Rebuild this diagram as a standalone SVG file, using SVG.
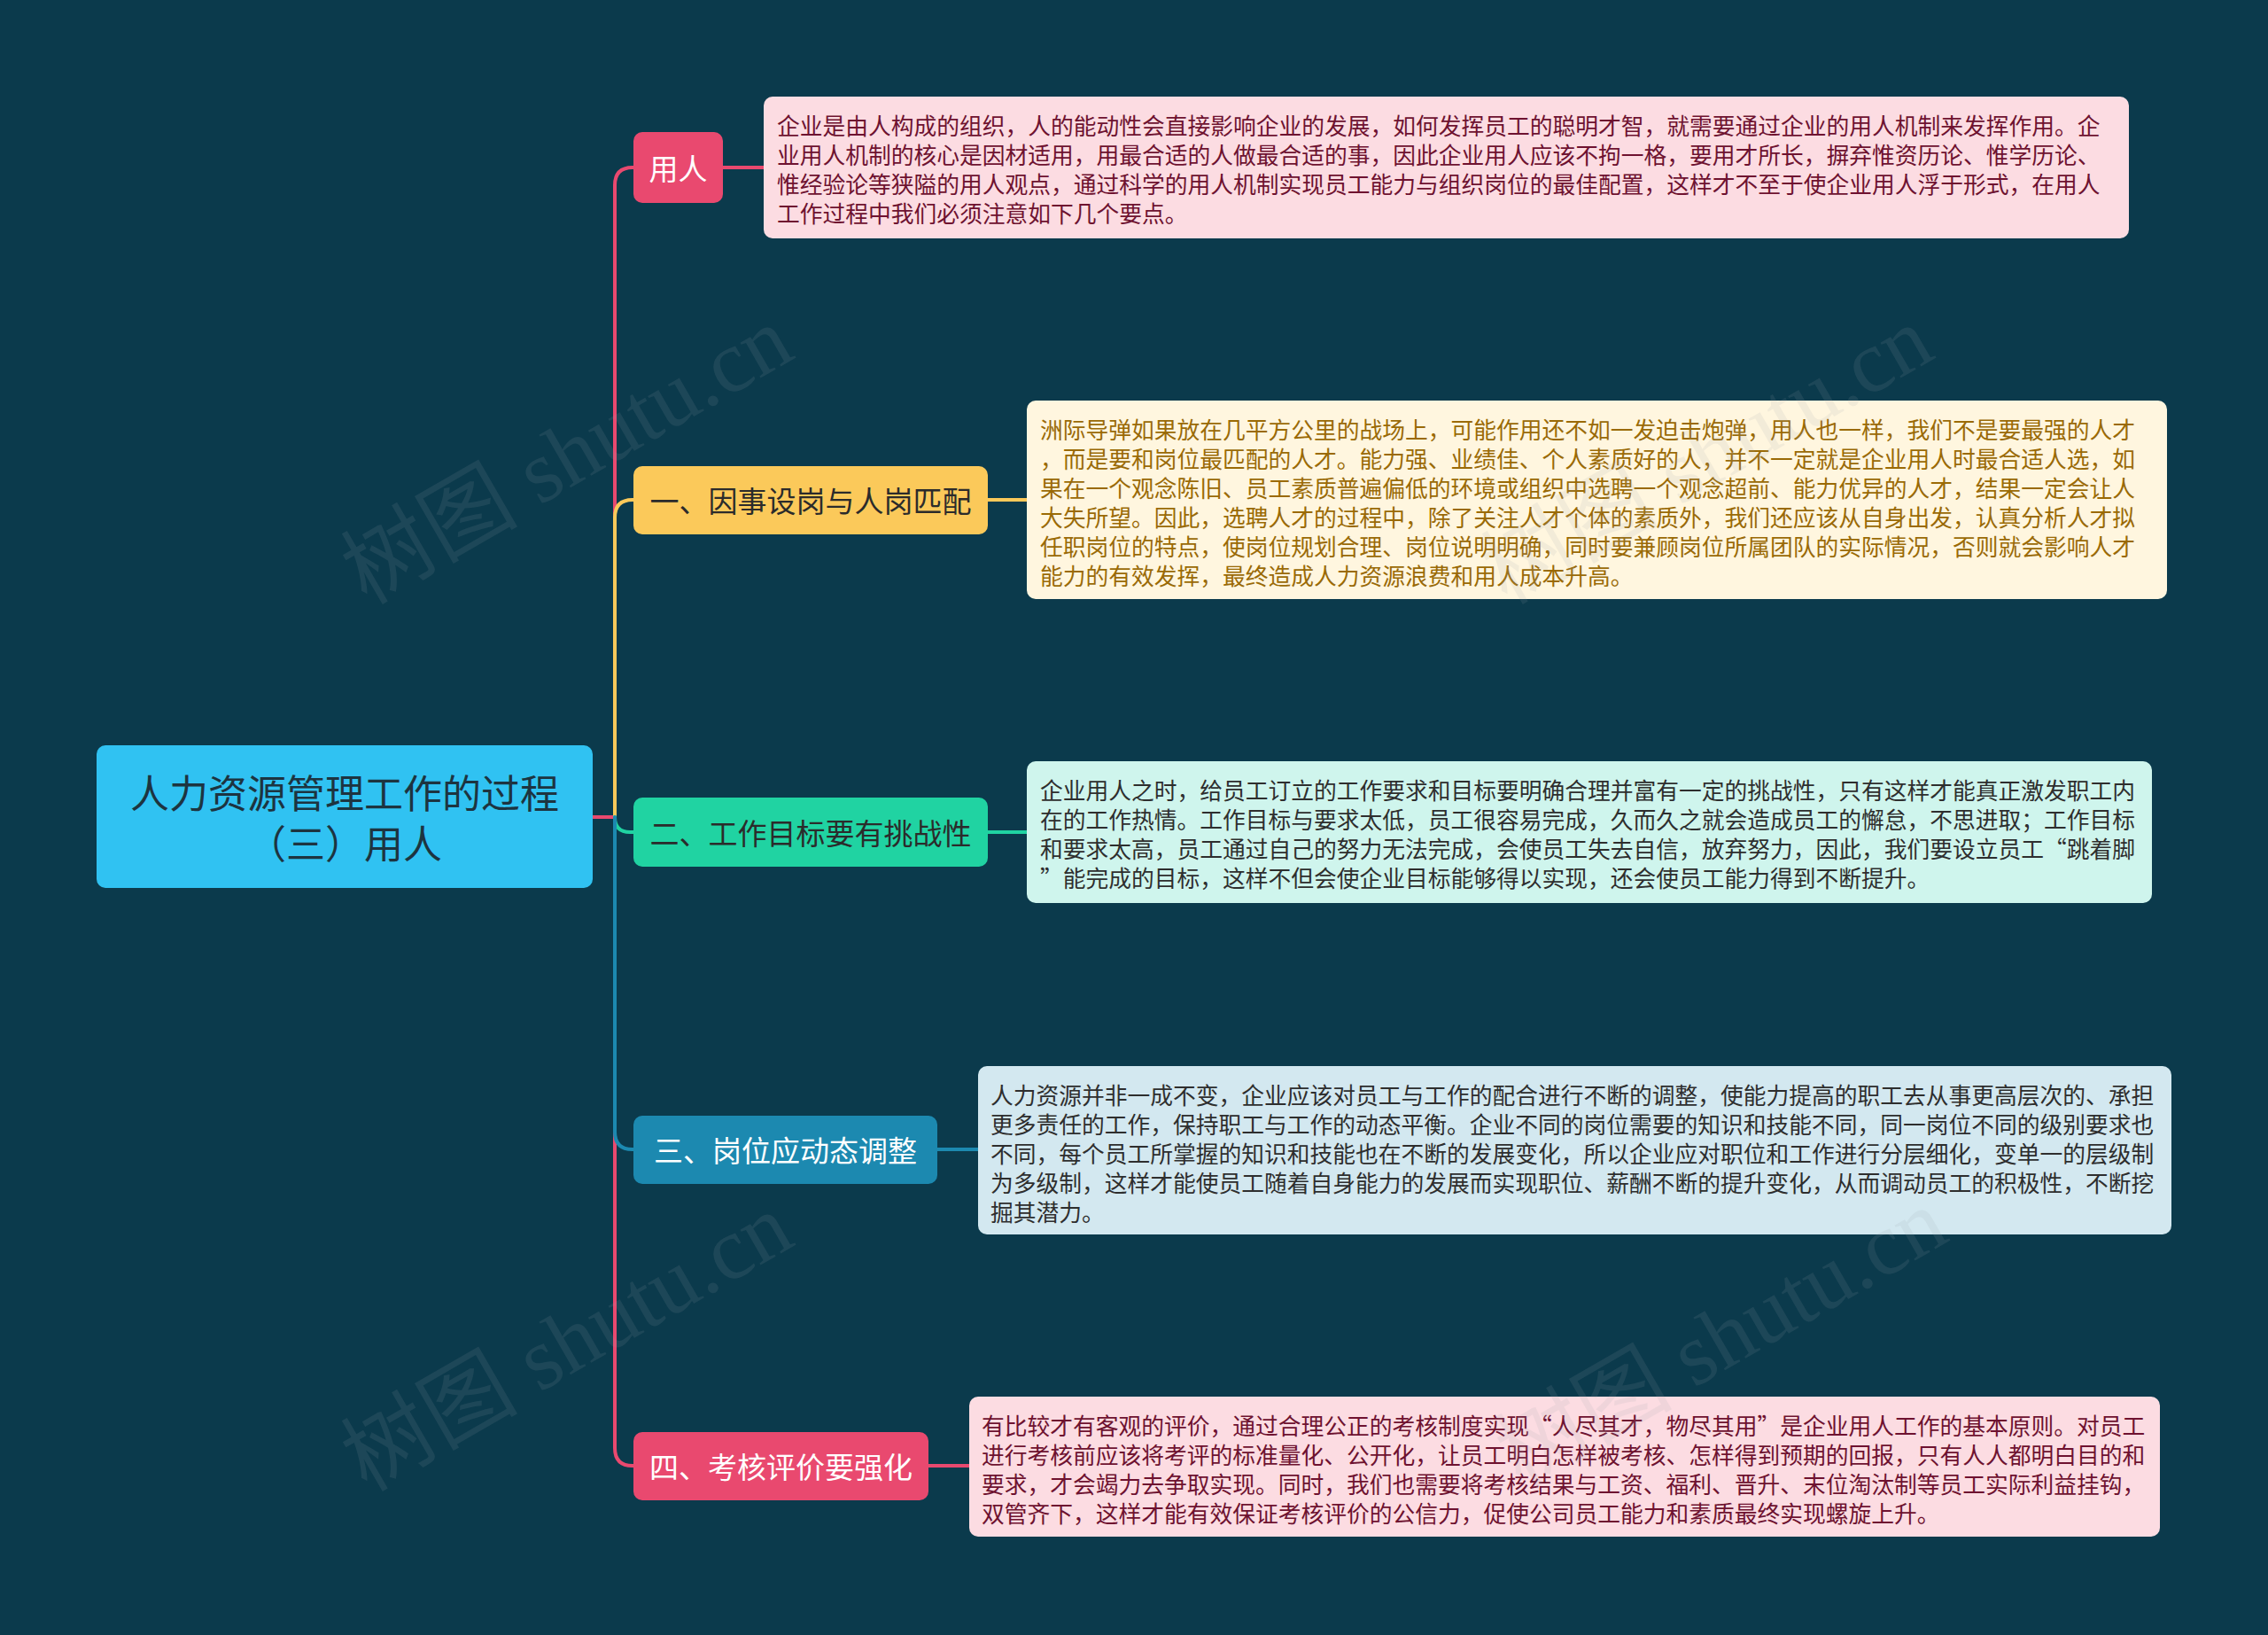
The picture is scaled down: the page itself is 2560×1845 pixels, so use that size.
<svg xmlns="http://www.w3.org/2000/svg" width="2560" height="1845" viewBox="0 0 2560 1845">
<style>
text{font-family:"Noto Sans CJK SC","Noto Sans",sans-serif;}
.root-t{font-size:44px;fill:#1d3440;}
.br-t{font-size:33px;}
.d-t{font-size:25.75px;}
.ln{fill:none;stroke-width:4;stroke-linecap:round;stroke-linejoin:round;}
.wm{font-family:"Liberation Serif","Noto Sans CJK SC",serif;font-size:100px;fill:#9aa3a8;fill-opacity:0.13;}
</style>
<rect x="0" y="0" width="2560" height="1845" fill="#0b3a4c"/>

<g id="connectors">
  <path class="ln" stroke="#e9496f" d="M669,922 L694,922 L694,209 Q694,189 714,189 L716,189"/>
  <path class="ln" stroke="#e9496f" d="M669,922 L694,922 L694,1634 Q694,1654 714,1654 L716,1654"/>
  <path class="ln" stroke="#fbc95a" d="M694,922 L694,584 Q694,564 714,564 L716,564"/>
  <path class="ln" stroke="#20d3a2" d="M694,922 Q694,939 711,939 L716,939"/>
  <path class="ln" stroke="#1c89b0" d="M694,922 L694,1277 Q694,1297 714,1297 L716,1297"/>
  <path class="ln" stroke="#e9496f" d="M816,189 L862,189"/>
  <path class="ln" stroke="#fbc95a" d="M1115,564 L1159,564"/>
  <path class="ln" stroke="#20d3a2" d="M1115,939 L1159,939"/>
  <path class="ln" stroke="#1c89b0" d="M1058,1297 L1104,1297"/>
  <path class="ln" stroke="#e9496f" d="M1048,1654 L1094,1654"/>
</g>

<g id="root">
  <rect x="109" y="841" width="560" height="161" rx="10" fill="#30c2f2"/>
  <text class="root-t" x="389" y="893" text-anchor="middle" dominant-baseline="central">人力资源管理工作的过程</text>
  <text class="root-t" x="389" y="950" text-anchor="middle" dominant-baseline="central">（三）用人</text>
</g>

<g id="n1">
  <rect x="715" y="149" width="101" height="80" rx="10" fill="#e9496f"/>
  <text class="br-t" x="765.5" y="189" text-anchor="middle" dominant-baseline="central" fill="#ffffff">用人</text>
</g>
<g id="n2">
  <rect x="715" y="526" width="400" height="77" rx="10" fill="#fbc95a"/>
  <text class="br-t" x="915" y="564" text-anchor="middle" dominant-baseline="central" fill="#2b2b2b">一、因事设岗与人岗匹配</text>
</g>
<g id="n3">
  <rect x="715" y="900" width="400" height="78" rx="10" fill="#20d3a2"/>
  <text class="br-t" x="915" y="939" text-anchor="middle" dominant-baseline="central" fill="#2b2b2b">二、工作目标要有挑战性</text>
</g>
<g id="n4">
  <rect x="715" y="1259" width="343" height="77" rx="10" fill="#1c89b0"/>
  <text class="br-t" x="886.5" y="1297" text-anchor="middle" dominant-baseline="central" fill="#ffffff">三、岗位应动态调整</text>
</g>
<g id="n5">
  <rect x="715" y="1616" width="333" height="77" rx="10" fill="#e9496f"/>
  <text class="br-t" x="881.5" y="1654" text-anchor="middle" dominant-baseline="central" fill="#ffffff">四、考核评价要强化</text>
</g>

<g id="d1">
  <rect x="862" y="109" width="1541" height="160" rx="10" fill="#fcdce2"/>
  <g class="d-t" fill="#6e1230">
    <text x="877" y="140" dominant-baseline="central">企业是由人构成的组织，人的能动性会直接影响企业的发展，如何发挥员工的聪明才智，就需要通过企业的用人机制来发挥作用。企</text>
    <text x="877" y="173" dominant-baseline="central">业用人机制的核心是因材适用，用最合适的人做最合适的事，因此企业用人应该不拘一格，要用才所长，摒弃惟资历论、惟学历论、</text>
    <text x="877" y="206" dominant-baseline="central">惟经验论等狭隘的用人观点，通过科学的用人机制实现员工能力与组织岗位的最佳配置，这样才不至于使企业用人浮于形式，在用人</text>
    <text x="877" y="239" dominant-baseline="central">工作过程中我们必须注意如下几个要点。</text>
  </g>
</g>

<g id="d2">
  <rect x="1159" y="452" width="1287" height="224" rx="10" fill="#fff6df"/>
  <g class="d-t" fill="#9a6a06">
    <text x="1174" y="483" dominant-baseline="central">洲际导弹如果放在几平方公里的战场上，可能作用还不如一发迫击炮弹，用人也一样，我们不是要最强的人才</text>
    <text x="1174" y="516" dominant-baseline="central">，而是要和岗位最匹配的人才。能力强、业绩佳、个人素质好的人，并不一定就是企业用人时最合适人选，如</text>
    <text x="1174" y="549" dominant-baseline="central">果在一个观念陈旧、员工素质普遍偏低的环境或组织中选聘一个观念超前、能力优异的人才，结果一定会让人</text>
    <text x="1174" y="582" dominant-baseline="central">大失所望。因此，选聘人才的过程中，除了关注人才个体的素质外，我们还应该从自身出发，认真分析人才拟</text>
    <text x="1174" y="615" dominant-baseline="central">任职岗位的特点，使岗位规划合理、岗位说明明确，同时要兼顾岗位所属团队的实际情况，否则就会影响人才</text>
    <text x="1174" y="648" dominant-baseline="central">能力的有效发挥，最终造成人力资源浪费和用人成本升高。</text>
  </g>
</g>

<g id="d3">
  <rect x="1159" y="859" width="1270" height="160" rx="10" fill="#cff5ed"/>
  <g class="d-t" fill="#2e2e2e">
    <text x="1174" y="890" dominant-baseline="central">企业用人之时，给员工订立的工作要求和目标要明确合理并富有一定的挑战性，只有这样才能真正激发职工内</text>
    <text x="1174" y="923" dominant-baseline="central">在的工作热情。工作目标与要求太低，员工很容易完成，久而久之就会造成员工的懈怠，不思进取；工作目标</text>
    <text x="1174" y="956" dominant-baseline="central">和要求太高，员工通过自己的努力无法完成，会使员工失去自信，放弃努力，因此，我们要设立员工“跳着脚</text>
    <text x="1174" y="989" dominant-baseline="central">”能完成的目标，这样不但会使企业目标能够得以实现，还会使员工能力得到不断提升。</text>
  </g>
</g>

<g id="d4">
  <rect x="1104" y="1203" width="1347" height="190" rx="10" fill="#d3e8f0"/>
  <g class="d-t" fill="#2e2e2e">
    <text x="1118" y="1234" dominant-baseline="central">人力资源并非一成不变，企业应该对员工与工作的配合进行不断的调整，使能力提高的职工去从事更高层次的、承担</text>
    <text x="1118" y="1267" dominant-baseline="central">更多责任的工作，保持职工与工作的动态平衡。企业不同的岗位需要的知识和技能不同，同一岗位不同的级别要求也</text>
    <text x="1118" y="1300" dominant-baseline="central">不同，每个员工所掌握的知识和技能也在不断的发展变化，所以企业应对职位和工作进行分层细化，变单一的层级制</text>
    <text x="1118" y="1333" dominant-baseline="central">为多级制，这样才能使员工随着自身能力的发展而实现职位、薪酬不断的提升变化，从而调动员工的积极性，不断挖</text>
    <text x="1118" y="1366" dominant-baseline="central">掘其潜力。</text>
  </g>
</g>

<g id="d5">
  <rect x="1094" y="1576" width="1344" height="158" rx="10" fill="#fcdce2"/>
  <g class="d-t" fill="#6e1230">
    <text x="1108" y="1607" dominant-baseline="central">有比较才有客观的评价，通过合理公正的考核制度实现“人尽其才，物尽其用”是企业用人工作的基本原则。对员工</text>
    <text x="1108" y="1640" dominant-baseline="central">进行考核前应该将考评的标准量化、公开化，让员工明白怎样被考核、怎样得到预期的回报，只有人人都明白目的和</text>
    <text x="1108" y="1673" dominant-baseline="central">要求，才会竭力去争取实现。同时，我们也需要将考核结果与工资、福利、晋升、末位淘汰制等员工实际利益挂钩，</text>
    <text x="1108" y="1706" dominant-baseline="central">双管齐下，这样才能有效保证考核评价的公信力，促使公司员工能力和素质最终实现螺旋上升。</text>
  </g>
</g>

<g id="watermarks">
  <text class="wm" x="640" y="514" text-anchor="middle" dominant-baseline="central" transform="rotate(-30 640 514)">树图 shutu.cn</text>
  <text class="wm" x="1927" y="514" text-anchor="middle" dominant-baseline="central" transform="rotate(-30 1927 514)">树图 shutu.cn</text>
  <text class="wm" x="640" y="1515" text-anchor="middle" dominant-baseline="central" transform="rotate(-30 640 1515)">树图 shutu.cn</text>
  <text class="wm" x="1943" y="1510" text-anchor="middle" dominant-baseline="central" transform="rotate(-30 1943 1510)">树图 shutu.cn</text>
</g>
</svg>
